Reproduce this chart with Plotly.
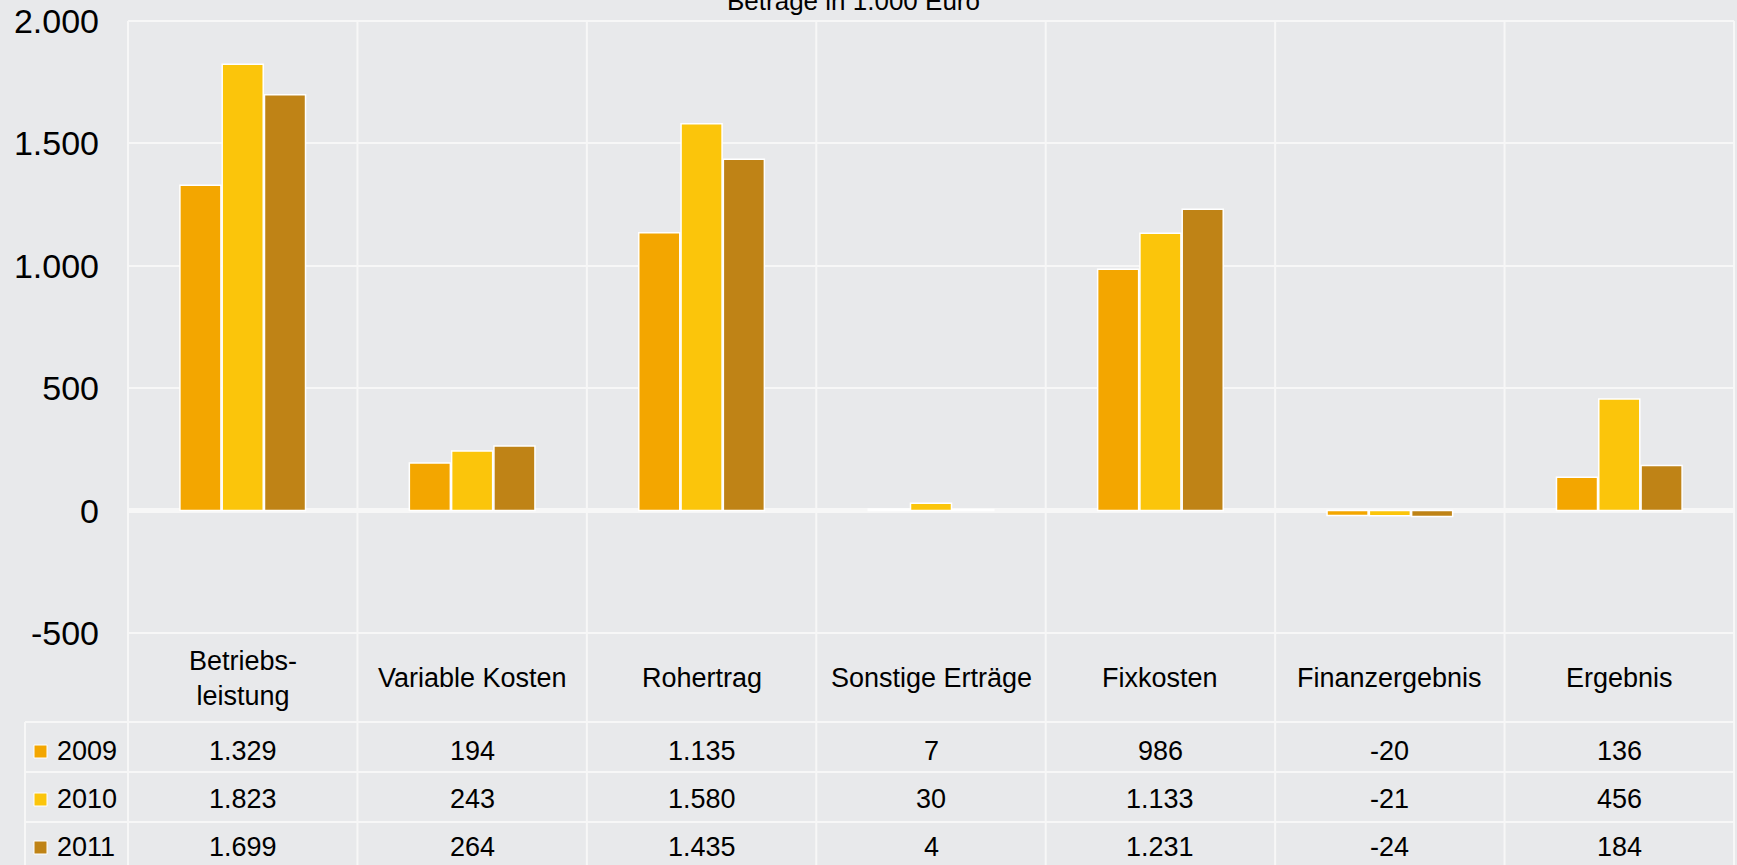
import plotly.graph_objects as go

# Data (Beträge in 1.000 Euro)
categories = ["Betriebs-<br>leistung", "Variable Kosten", "Rohertrag", "Sonstige Erträge",
              "Fixkosten", "Finanzergebnis", "Ergebnis"]
years = ["2009", "2010", "2011"]
values_2009 = [1329, 194, 1135, 7, 986, -20, 136]
values_2010 = [1823, 243, 1580, 30, 1133, -21, 456]
values_2011 = [1699, 264, 1435, 4, 1231, -24, 184]
y_tick_values = [-500, 0, 500, 1000, 1500, 2000]
y_tick_labels = ["-500", "0", "500", "1.000", "1.500", "2.000"]

series = [values_2009, values_2010, values_2011]
colors = ["#F3A600", "#FBC50B", "#BF8316"]

FONT = "Liberation Sans, Arial, sans-serif"
BG = "#E8E9EB"
GRID = "#F7F7F7"

# page geometry in pixels
W, H = 1737, 865
L, R, T, B = 128, 3, 21, 232
plot_w = W - L - R
plot_h = H - T - B


def py(px):
    # pixel row -> paper y
    return 1 - (px - T) / plot_h


def px_(px):
    # pixel column -> paper x
    return (px - L) / plot_w


def fmt(v):
    return f"{v:,}".replace(",", ".")


fig = go.Figure()
for name, vals, col in zip(years, series, colors):
    fig.add_trace(go.Bar(x=categories, y=vals, name=name,
                         marker=dict(color=col, line=dict(color="white", width=1.5)),
                         showlegend=False))

shapes = []
n = len(categories)
# vertical lines through chart and table
for k in range(n + 1):
    shapes.append(dict(type="line", xref="paper", yref="paper", x0=k / n, x1=k / n,
                       y0=py(H + 5), y1=1, line=dict(color=GRID, width=2)))
# top and bottom lines of the plot area
for yy in [0, 1]:
    shapes.append(dict(type="line", xref="paper", yref="paper", x0=0, x1=1,
                       y0=yy, y1=yy, line=dict(color=GRID, width=2)))
# table row lines
for row_px in [722, 772, 822]:
    shapes.append(dict(type="line", xref="paper", yref="paper", x0=px_(25), x1=1,
                       y0=py(row_px), y1=py(row_px), line=dict(color=GRID, width=2)))
shapes.append(dict(type="line", xref="paper", yref="paper", x0=px_(25), x1=px_(25),
                   y0=py(H + 5), y1=py(722), line=dict(color=GRID, width=2)))

annotations = []
# category header row
for cat in categories:
    annotations.append(dict(x=cat, xref="x", y=py(678), yref="paper", text=cat,
                            showarrow=False, yanchor="middle",
                            font=dict(size=27, color="#000000", family=FONT)))
# value rows with legend keys
row_centers = [751, 799, 847]
for year, vals, col, rc in zip(years, series, colors, row_centers):
    shapes.append(dict(type="rect", xref="paper", yref="paper",
                       x0=px_(34), x1=px_(47), y0=py(rc + 7), y1=py(rc - 6),
                       fillcolor=col, line=dict(color="white", width=1)))
    annotations.append(dict(x=px_(55), xref="paper", y=py(rc), yref="paper", text=year,
                            showarrow=False, xanchor="left", yanchor="middle",
                            font=dict(size=27, color="#000000", family=FONT)))
    for cat, v in zip(categories, vals):
        annotations.append(dict(x=cat, xref="x", y=py(rc), yref="paper", text=fmt(v),
                                showarrow=False, yanchor="middle",
                                font=dict(size=27, color="#000000", family=FONT)))

# title, cut at the top of the page
annotations.append(dict(x=px_(853), xref="paper", y=py(18), yref="paper",
                        text="Beträge in 1.000 Euro", showarrow=False,
                        xanchor="center", yanchor="bottom",
                        font=dict(size=26, color="#000000", family=FONT)))

fig.update_layout(
    width=W, height=H,
    margin=dict(l=L, r=R, t=T, b=B, autoexpand=False),
    paper_bgcolor=BG, plot_bgcolor=BG,
    barmode="group", bargap=0.447, bargroupgap=0.03,
    font=dict(family=FONT, color="#000000"),
    shapes=shapes, annotations=annotations,
    xaxis=dict(showticklabels=False, showgrid=False, zeroline=False, showline=False,
               range=[-0.5, n - 0.5]),
    yaxis=dict(range=[-500, 2000], tickvals=y_tick_values, ticktext=y_tick_labels,
               showgrid=True, gridcolor=GRID, gridwidth=2,
               zeroline=True, zerolinecolor=GRID, zerolinewidth=5,
               showline=False, ticklabelstandoff=28,
               tickfont=dict(size=34, color="#000000", family=FONT)),
)

# the page body has a default margin; drop it so the figure sits at the corner
fig.write_html("out.html", config={"displayModeBar": False},
               post_script="document.body.style.margin='0';document.body.style.overflow='hidden';")
